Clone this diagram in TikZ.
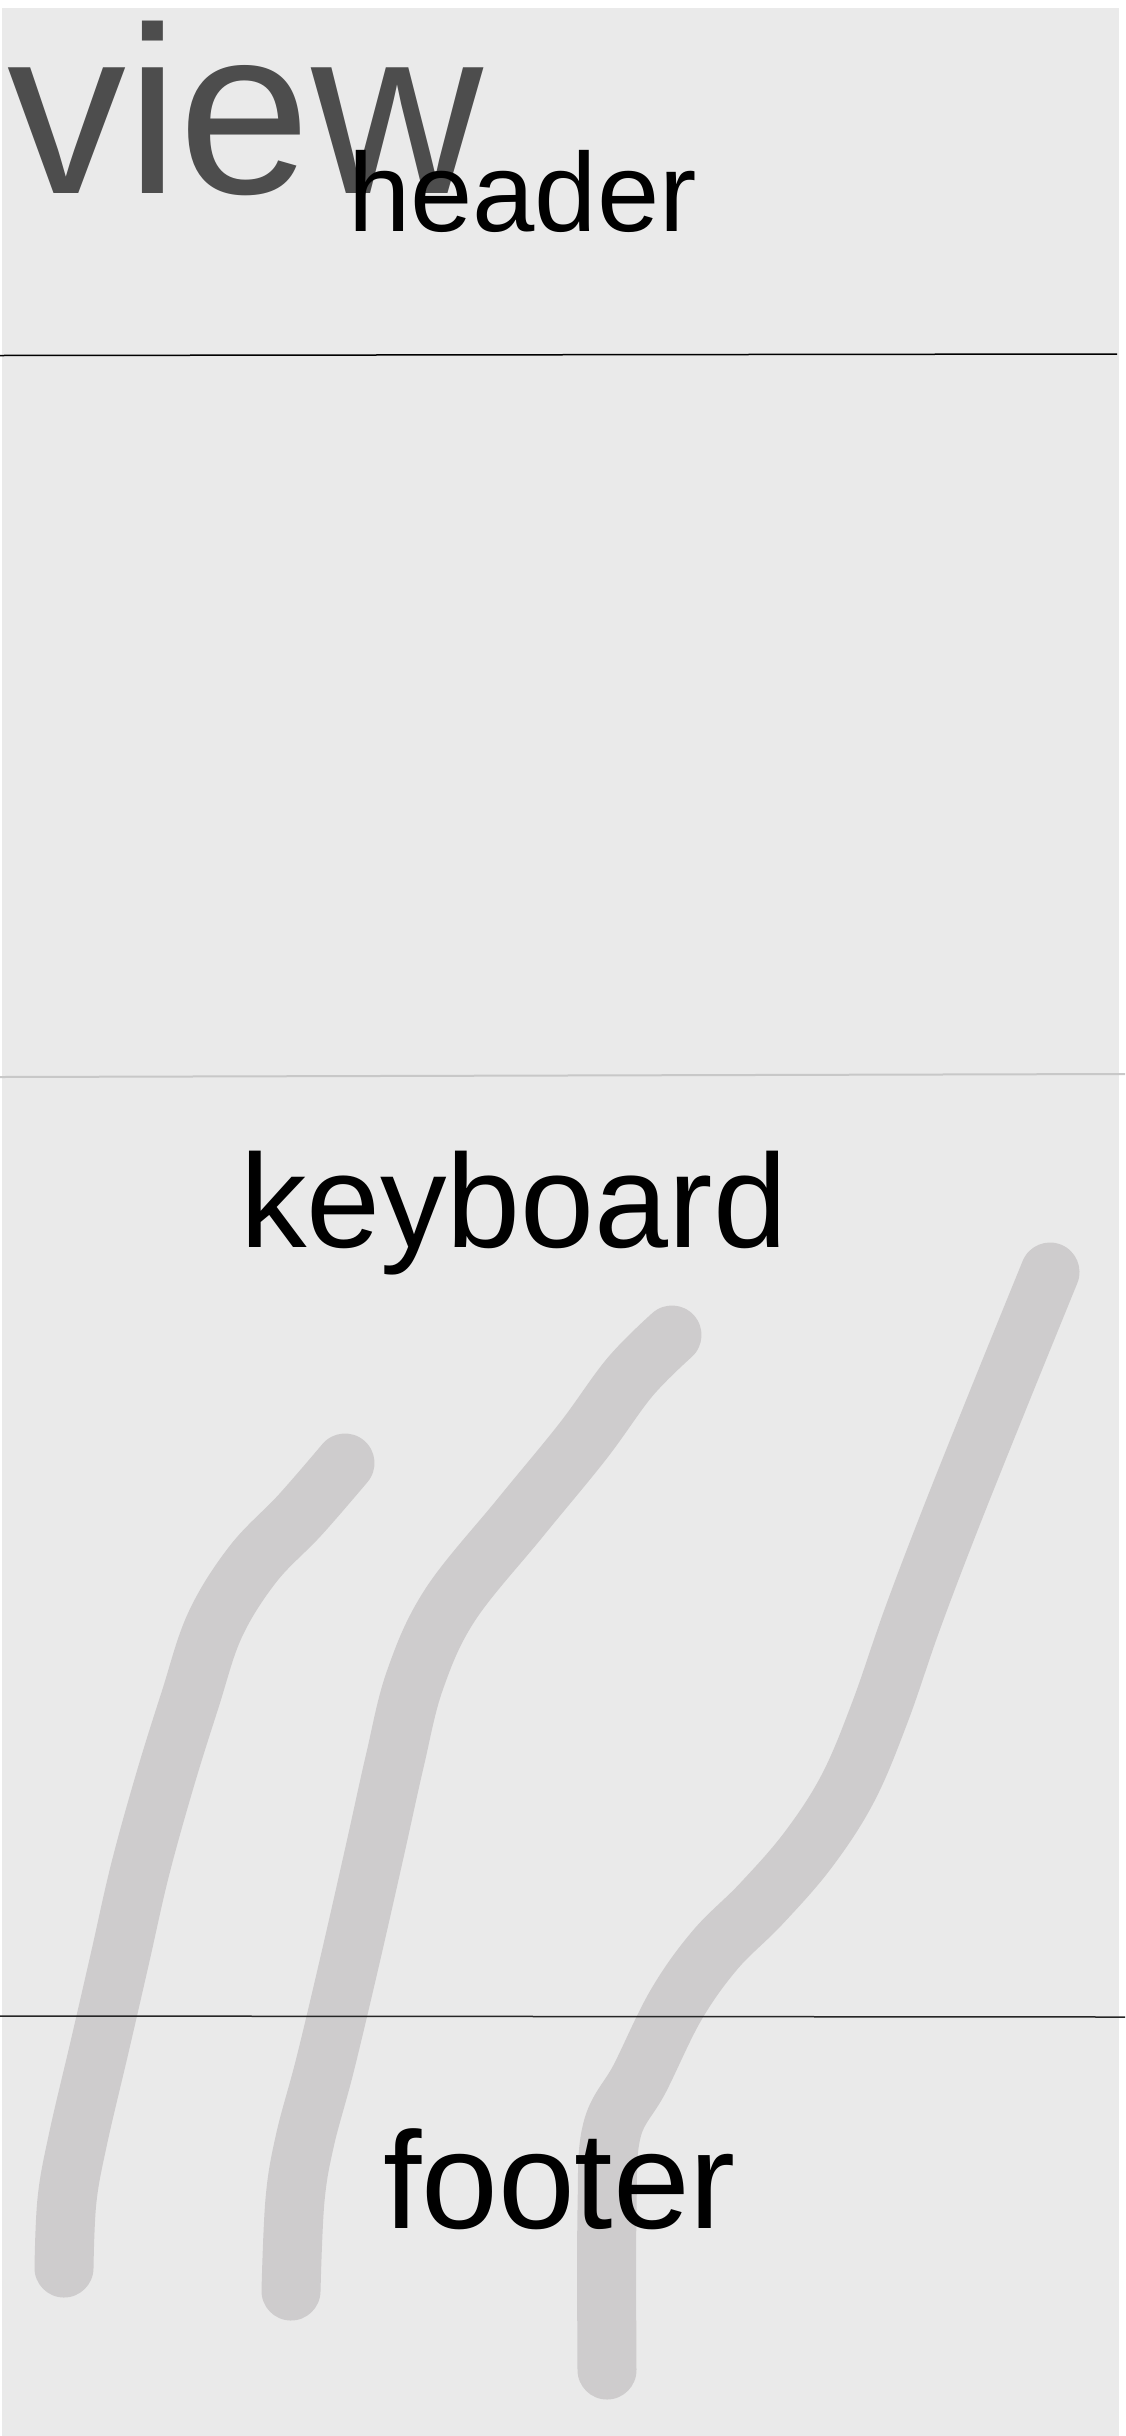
\documentclass[tikz,border=0pt]{standalone}
\usepackage{fontspec}
\setmainfont{Liberation Sans}
\definecolor{bg}{RGB}{234,234,234}
\definecolor{scribble}{RGB}{206,204,205}
\definecolor{viewgray}{RGB}{77,77,77}
\definecolor{sepgray}{RGB}{200,200,200}
\tikzset{
  scrib/.style={draw=scribble, line width=59pt, line cap=round, line join=round},
  lbl/.style={anchor=base west, inner sep=0pt, outer sep=0pt},
  sepline/.style={line width=1.5pt}
}
\begin{document}
\begin{tikzpicture}[x=1pt,y=-1pt]
\useasboundingbox (0,0) rectangle (1125,2436);
\fill[white] (0,0) rectangle (1125,2436);
\fill[bg] (2,8) rectangle (1119,2436);
% scribbles
\draw[scrib] plot[smooth, tension=0.6] coordinates {(345,1463) (300,1515) (253,1564) (215,1625) (190,1700) (165,1780) (140,1870) (120,1958) (100,2045) (78,2139) (67,2200) (64,2268)};
\draw[scrib] plot[smooth, tension=0.6] coordinates {(672,1335) (630,1377) (583,1441) (520,1518) (450,1605) (415,1680) (395,1760) (375,1850) (350,1960) (325,2065) (305,2140) (295,2200) (291,2291)};
\draw[scrib] plot[smooth, tension=0.6] coordinates {(1050,1272) (1000,1395) (950,1520) (912,1620) (880,1712) (848,1788) (808,1850) (761,1904) (715,1950) (676,2005) (640,2078) (612,2130) (607,2210) (607,2370)};
% separator lines
\coordinate (h1) at (0,355.5);
\coordinate (h2) at (1117,354);
\coordinate (k1) at (0,1077);
\coordinate (k2) at (1125,1074);
\coordinate (f1) at (0,2016);
\coordinate (f2) at (1125,2017);
\draw[sepline, black] (h1) -- (h2);
\draw[line width=2pt, sepgray] (k1) -- (k2);
\draw[sepline, black!85] (f1) -- (f2);
% texts
\node[lbl, text=viewgray, font=\fontsize{238}{280}\selectfont] (view) at (7,193) {view};
\node[lbl, text=black, font=\fontsize{112}{130}\selectfont] (header) at (348,231) {header};
\node[lbl, text=black, font=\fontsize{133}{150}\selectfont] (keyboard) at (240,1247) {keyboard};
\node[lbl, text=black, font=\fontsize{138}{160}\selectfont] (footer) at (383,2228) {footer};
\end{tikzpicture}
\end{document}
